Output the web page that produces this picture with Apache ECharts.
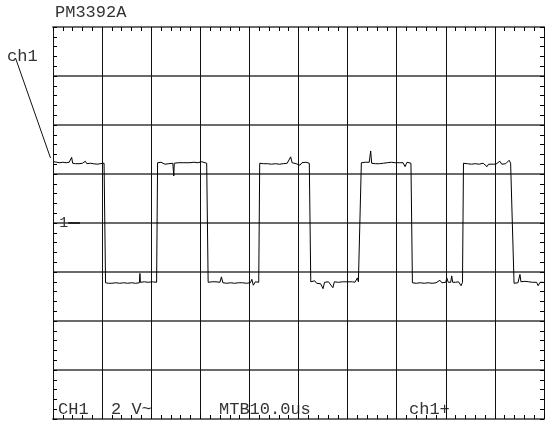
<!DOCTYPE html>
<html>
<head>
<meta charset="utf-8">
<script src="https://cdn.jsdelivr.net/npm/echarts@6/dist/echarts.min.js"></script>
<style>
html, body { margin: 0; padding: 0; background: #fff; }
#scope { width: 545px; height: 421px; }
</style>
</head>
<body>
<div id="scope"></div>
<script>
const xDivs = [0, 10]
const yDivs = [0, 8]
const subDiv = 0.2
const groundLevel = 4

// flat parts of the square wave (with the noise as seen)
const high1 = [[0.02,5.25],[0.05,5.22],[0.08,5.24],[0.11,5.21],[0.14,5.23],[0.17,5.21],[0.2,5.24],[0.23,5.22],[0.27,5.23],[0.3,5.21],[0.33,5.24],[0.36,5.22],[0.38,5.34],[0.4,5.22],[0.43,5.24],[0.46,5.21],[0.5,5.23],[0.53,5.21],[0.56,5.24],[0.6,5.22],[0.63,5.23],[0.66,5.26],[0.69,5.21],[0.72,5.23],[0.76,5.22],[0.79,5.24],[0.82,5.21],[0.86,5.23],[0.9,5.2],[0.93,5.24],[0.96,5.21],[1.0,5.23],[1.04,5.22]]
const low1 = [[1.07,2.78],[1.1,2.8],[1.13,2.77],[1.17,2.79],[1.2,2.77],[1.24,2.8],[1.28,2.78],[1.32,2.79],[1.36,2.77],[1.4,2.8],[1.44,2.78],[1.48,2.79],[1.52,2.77],[1.56,2.8],[1.6,2.78],[1.64,2.79],[1.68,2.77],[1.72,2.79],[1.76,2.78],[1.77,2.97],[1.78,2.79],[1.82,2.78],[1.86,2.8],[1.9,2.78],[1.94,2.79],[1.98,2.77],[2.02,2.8],[2.06,2.78],[2.11,2.79]]
const high2 = [[2.13,5.23],[2.16,5.21],[2.2,5.24],[2.24,5.22],[2.28,5.2],[2.32,5.23],[2.36,5.21],[2.4,5.24],[2.44,5.22],[2.46,4.96],[2.47,5.22],[2.51,5.21],[2.55,5.23],[2.59,5.21],[2.63,5.23],[2.67,5.21],[2.71,5.23],[2.75,5.21],[2.79,5.23],[2.83,5.21],[2.87,5.24],[2.91,5.21],[2.95,5.23],[2.99,5.21],[3.03,5.25],[3.07,5.21],[3.13,5.22]]
const low2 = [[3.16,2.79],[3.2,2.77],[3.24,2.8],[3.28,2.78],[3.32,2.8],[3.36,2.77],[3.4,2.79],[3.43,2.9],[3.46,2.78],[3.5,2.8],[3.54,2.77],[3.58,2.79],[3.62,2.78],[3.66,2.8],[3.7,2.77],[3.74,2.79],[3.78,2.78],[3.82,2.8],[3.86,2.78],[3.9,2.79],[3.94,2.77],[3.98,2.8],[4.02,2.78],[4.05,2.85],[4.08,2.73],[4.12,2.8],[4.19,2.79]]
const high3 = [[4.21,5.22],[4.25,5.24],[4.29,5.21],[4.33,5.23],[4.37,5.21],[4.41,5.22],[4.45,5.2],[4.49,5.23],[4.53,5.21],[4.57,5.22],[4.61,5.2],[4.65,5.23],[4.69,5.21],[4.73,5.24],[4.77,5.22],[4.81,5.25],[4.84,5.35],[4.87,5.23],[4.91,5.25],[4.95,5.21],[4.99,5.24],[5.03,5.18],[5.07,5.23],[5.11,5.21],[5.15,5.24],[5.22,5.22]]
const low3 = [[5.25,2.8],[5.29,2.76],[5.33,2.82],[5.37,2.77],[5.41,2.8],[5.45,2.76],[5.5,2.66],[5.53,2.79],[5.57,2.77],[5.61,2.8],[5.65,2.78],[5.7,2.68],[5.73,2.8],[5.77,2.77],[5.81,2.79],[5.85,2.8],[5.9,2.8],[5.95,2.8],[6.0,2.8],[6.05,2.8],[6.1,2.8],[6.15,2.79],[6.2,2.88],[6.22,2.8],[6.26,2.8]]
const high4 = [[6.28,5.23],[6.32,5.21],[6.36,5.24],[6.4,5.22],[6.44,5.24],[6.47,5.47],[6.49,5.22],[6.53,5.24],[6.57,5.21],[6.61,5.23],[6.65,5.21],[6.69,5.24],[6.73,5.22],[6.77,5.2],[6.81,5.23],[6.85,5.21],[6.89,5.24],[6.93,5.21],[6.97,5.23],[7.01,5.21],[7.05,5.23],[7.09,5.2],[7.13,5.23],[7.17,5.15],[7.21,5.24],[7.25,5.22],[7.29,5.22]]
const low4 = [[7.32,2.78],[7.36,2.8],[7.4,2.77],[7.44,2.79],[7.48,2.78],[7.52,2.8],[7.56,2.77],[7.6,2.79],[7.64,2.78],[7.68,2.8],[7.72,2.77],[7.76,2.79],[7.8,2.78],[7.84,2.8],[7.88,2.83],[7.92,2.78],[7.96,2.8],[8.0,2.79],[8.02,2.88],[8.05,2.79],[8.1,2.79],[8.12,2.92],[8.14,2.79],[8.2,2.79],[8.26,2.8],[8.31,2.72],[8.34,2.79]]
const high5 = [[8.36,5.22],[8.4,5.24],[8.44,5.21],[8.48,5.23],[8.52,5.2],[8.56,5.24],[8.6,5.21],[8.64,5.23],[8.68,5.2],[8.72,5.24],[8.76,5.22],[8.8,5.21],[8.84,5.15],[8.87,5.2],[8.92,5.2],[8.97,5.2],[9.02,5.2],[9.06,5.22],[9.1,5.26],[9.14,5.2],[9.18,5.23],[9.22,5.21],[9.26,5.24],[9.29,5.28],[9.32,5.22],[9.36,5.22]]
const low5 = [[9.39,2.77],[9.43,2.8],[9.47,2.78],[9.51,2.95],[9.53,2.8],[9.57,2.77],[9.61,2.81],[9.65,2.78],[9.69,2.8],[9.73,2.77],[9.77,2.79],[9.81,2.76],[9.85,2.79],[9.88,2.72],[9.92,2.79],[9.96,2.77],[9.99,2.79]]

// screen texts
const modelName = "PM3392A"
const chLabel = "ch1"
const statusTexts = [["CH1", 58], ["2 V~", 111], ["MTB10.0us", 219], ["ch1+", 409]]

const trace = [].concat(high1, low1, high2, low2, high3, low3, high4, low4, high5, low5)

const mono = "Liberation Mono"
const borderGray = "#6a6a6a"
const gridW = 491, gridH = 392

const txt = (text, x, y) => ({
	type: "text",
	left: x,
	top: y,
	style: {text: text, fill: "#333", font: "17px " + mono}
})

var graphic = [
	txt(modelName, 55, 4),
	txt(chLabel, 7, 48),
	{type: "line", shape: {x1: 15.5, y1: 58, x2: 50.5, y2: 158}, style: {stroke: "#111", lineWidth: 1}}
]
statusTexts.forEach(item => {
	graphic.push(txt(item[0], item[1], 401))
})

// axis with the division lines
const gridAxis = (range, pos, lineColor, lineW, splitColor, splitW) => ({
	type: "value", min: range[0], max: range[1], interval: 1, position: pos,
	axisLine: {show: true, onZero: false, lineStyle: {color: lineColor, width: lineW}},
	axisTick: {show: false},
	axisLabel: {show: false},
	splitLine: {show: true, lineStyle: {color: splitColor, width: splitW}}
})
// axis for the small border ticks: put on the opposite side and pulled back
// with a negative offset, so the ticks point into the screen
const tickAxis = (range, pos, offset, lineColor, lineW) => ({
	type: "value", min: range[0], max: range[1], interval: subDiv, position: pos, offset: offset,
	axisLine: {show: !!lineColor, onZero: false, lineStyle: {color: lineColor || "#000", width: lineW || 1}},
	axisTick: {show: true, length: 4, lineStyle: {color: "#000", width: 1}},
	axisLabel: {show: false},
	splitLine: {show: false}
})

var option = {
	animation: false,
	backgroundColor: "#fff",
	grid: {left: 53, top: 27, width: gridW, height: gridH, outerBoundsMode: "none"},
	xAxis: [
		gridAxis(xDivs, "bottom", borderGray, 2, "#111", 1),
		tickAxis(xDivs, "bottom", -gridH, borderGray, 2),  // top border, ticks down
		tickAxis(xDivs, "top", -gridH)                     // bottom border, ticks up
	],
	yAxis: [
		gridAxis(yDivs, "left", "#111", 1, borderGray, 2),
		tickAxis(yDivs, "left", -gridW, "#111", 1),        // right border, ticks left
		tickAxis(yDivs, "right", -gridW)                   // left border, ticks right
	],
	graphic: graphic,
	series: [{
		type: "line",
		xAxisIndex: 0,
		yAxisIndex: 0,
		data: trace,
		showSymbol: false,
		symbol: "none",
		lineStyle: {color: "#000", width: 1},
		silent: true,
		markLine: {
			silent: true,
			symbol: ["none", "none"],
			lineStyle: {color: "#222", width: 2, type: "solid"},
			label: {show: true, position: "start", distance: 0, formatter: "1", color: "#333", fontFamily: mono, fontSize: 15},
			data: [[{coord: [0.31, groundLevel]}, {coord: [0.55, groundLevel]}]]
		}
	}]
}

var myChart = echarts.init(document.getElementById("scope"))
myChart.setOption(option)
</script>
</body>
</html>
